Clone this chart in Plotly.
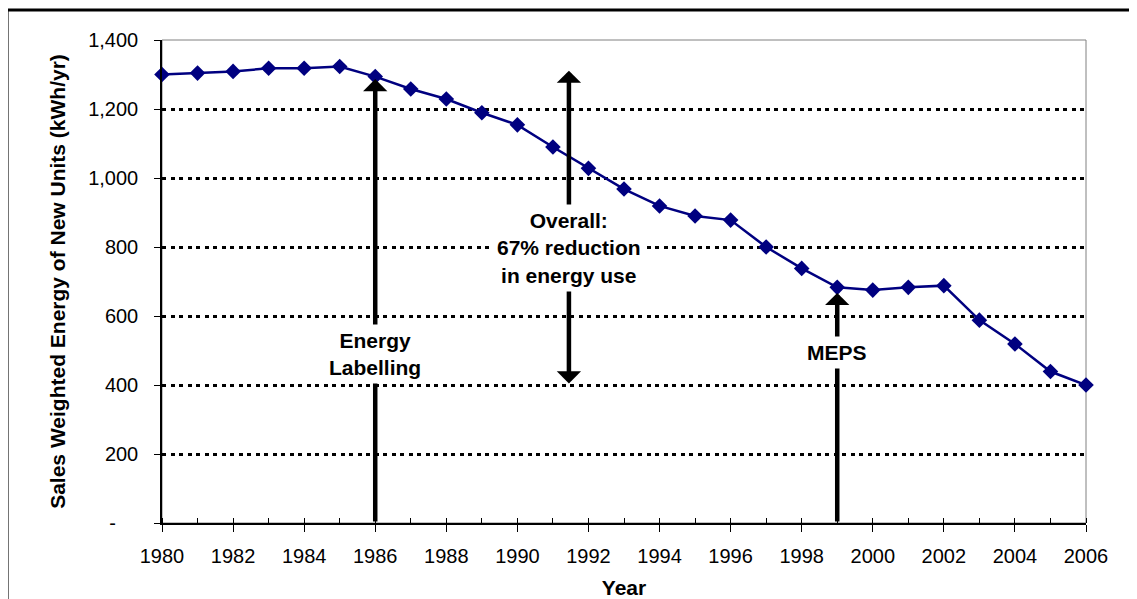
import plotly.graph_objects as go

years = list(range(1980, 2007))
energy = [1300, 1304, 1309, 1318, 1318, 1323, 1294, 1258, 1229, 1189, 1154,
          1090, 1028, 968, 919, 890, 878, 800, 738, 683, 675, 683, 688,
          588, 519, 439, 400]

y_ticks = [0, 200, 400, 600, 800, 1000, 1200, 1400]
y_labels = ['-\u00a0\u00a0\u00a0\u00a0', '200', '400', '600', '800', '1,000', '1,200', '1,400']
x_ticks = list(range(1980, 2007, 2))

font = 'Liberation Sans, Arial, sans-serif'

fig = go.Figure()
fig.add_trace(go.Scatter(x=years, y=energy, mode='lines+markers',
                         line=dict(color='#000080', width=2.5),
                         marker=dict(symbol='diamond', size=12, color='#000080'),
                         showlegend=False, cliponaxis=False))

# arrows
arrows = [
    dict(x=1986, y=1287, ax=1986, ay=0, side='end'),
    dict(x=1991.45, y=1311, ax=1991.45, ay=400, side='end+start'),
    dict(x=1999, y=667, ax=1999, ay=0, side='end'),
]
for a in arrows:
    fig.add_annotation(x=a['x'], y=a['y'], ax=a['ax'], ay=a['ay'],
                       xref='x', yref='y', axref='x', ayref='y',
                       text='', showarrow=True, arrowhead=1, startarrowhead=1,
                       arrowside=a['side'], arrowsize=0.9, startarrowsize=0.9,
                       arrowwidth=4.5, arrowcolor='black')

labels = [
    (1986, 490, 'Energy<br>Labelling'),
    (1991.45, 797, 'Overall:<br>67% reduction<br>in energy use'),
    (1999, 493, 'MEPS'),
]
for x, y, t in labels:
    fig.add_annotation(x=x, y=y, xref='x', yref='y', text='<b>' + t + '</b>',
                       showarrow=False, bgcolor='white', borderpad=4,
                       font=dict(family=font, size=21, color='black'))

# plot area frame (grey) and outer chart border
fig.add_shape(type='rect', xref='paper', yref='paper', x0=0, x1=1, y0=0, y1=1,
              line=dict(color='#808080', width=1), layer='below')
fig.add_shape(type='rect', xref='paper', yref='paper',
              x0=-0.1677, x1=1.2, y0=-0.3, y1=1.0621,
              line=dict(color='black', width=3))

# page body has an 8px margin, so the figure is sized to fit the window
fig.update_layout(
    width=1129, height=591,
    margin=dict(l=154, r=51, t=32, b=76),
    paper_bgcolor='white', plot_bgcolor='white',
    font=dict(family=font, size=20, color='black'),
    xaxis=dict(range=[1980, 2006], tickvals=x_ticks, ticks='outside', ticklen=7,
               tickcolor='black', tickwidth=1, showline=True, linecolor='black',
               linewidth=1.5, showgrid=False, zeroline=False, automargin=False,
               ticklabelstandoff=7,
               minor=dict(dtick=1, tick0=1980, ticks='inside', ticklen=5,
                          tickcolor='black', showgrid=False),
               title=dict(text='<b>Year</b>', standoff=15, font=dict(size=21))),
    yaxis=dict(range=[0, 1400], tickvals=y_ticks, ticktext=y_labels,
               ticks='outside', ticklen=6, tickcolor='black', showline=True,
               linecolor='black', linewidth=1.5, showgrid=True,
               gridcolor='black', gridwidth=2.5, griddash='4px,4.5px',
               zeroline=False, automargin=False, ticklabelstandoff=12,
               title=dict(text='<b>Sales Weighted Energy of New Units (kWh/yr)</b>',
                          standoff=17, font=dict(size=21))),
)

fig.write_html('out.html')
